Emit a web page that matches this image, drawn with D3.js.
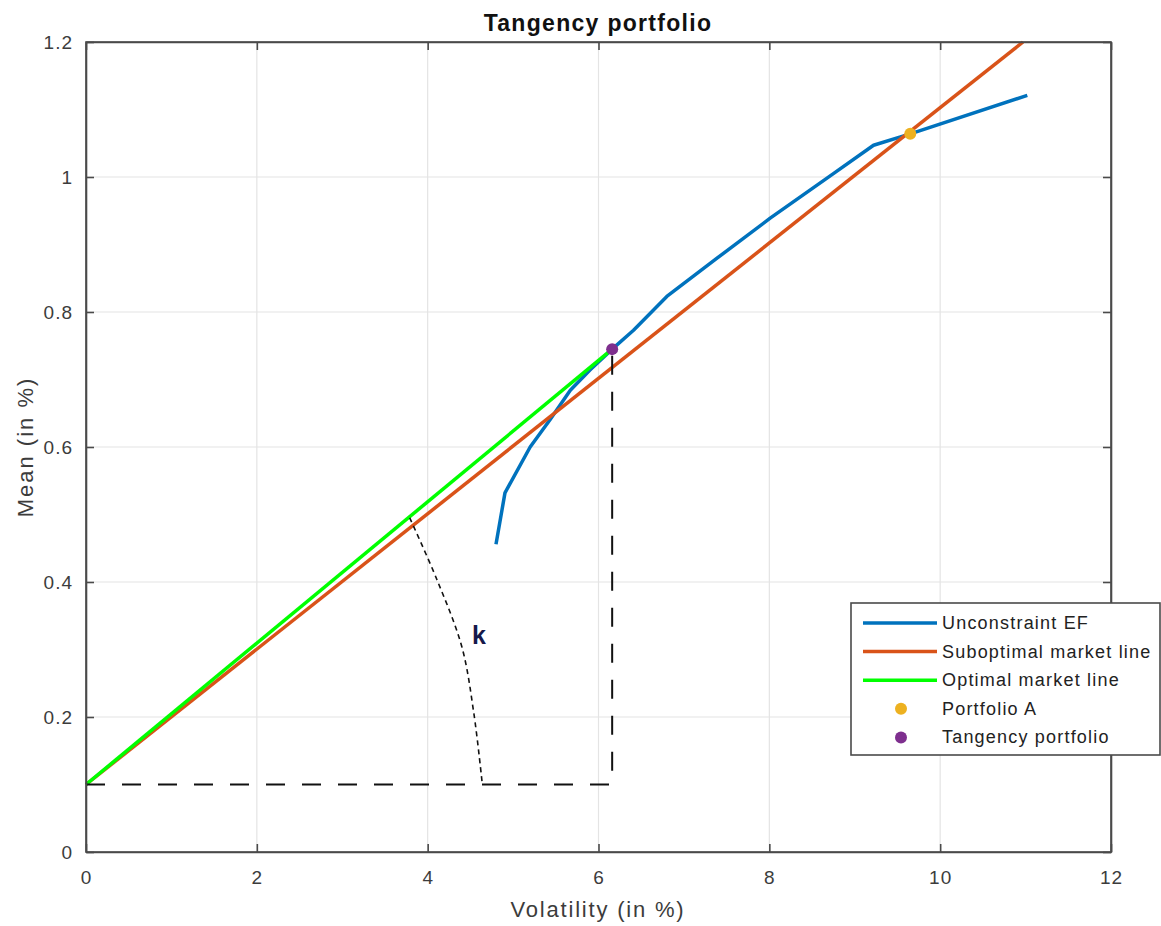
<!DOCTYPE html>
<html>
<head>
<meta charset="utf-8">
<script src="https://cdn.jsdelivr.net/npm/d3@7/dist/d3.min.js"></script>
<style>
  body { margin: 0; background: #fff; }
  svg { display: block; font-family: "Liberation Sans", Arial, Helvetica, sans-serif; }
</style>
</head>
<body>
<svg id="chart" width="1161" height="926"></svg>
<script>
// Efficient frontier (volatility %, mean %)
const efVol  = [4.80, 4.905, 5.20, 5.43, 5.67, 5.90, 6.16, 6.41, 6.80, 7.38, 8.01, 8.75, 9.22, 9.65, 11.02];
const efMean = [0.456, 0.532, 0.600, 0.640, 0.684, 0.714, 0.745, 0.773, 0.823, 0.879, 0.939, 1.005, 1.047, 1.064, 1.121];

// Suboptimal market line (through Portfolio A)
const subVol  = [0, 10.97];
const subMean = [0.1, 1.2];

// Optimal market line (through tangency portfolio)
const optVol  = [0, 6.16];
const optMean = [0.1, 0.745];

// Highlighted portfolios
const portfolioA = [9.65, 1.064];
const tangency   = [6.16, 0.745];

// Dashed guide: risk-free level and drop from tangency portfolio
const guideVol  = [0, 6.16, 6.16];
const guideMean = [0.1, 0.1, 0.745];

// Arc marking the angle k
const arcVol  = [3.79, 4.11, 4.40, 4.54, 4.64];
const arcMean = [0.495, 0.403, 0.304, 0.206, 0.1];
const angleLabel = { text: "k", vol: 4.6, mean: 0.322 };

// Axis ticks
const xTicks = [0, 2, 4, 6, 8, 10, 12];
const yTicks = [0, 0.2, 0.4, 0.6, 0.8, 1, 1.2];

const legendItems = [
  { label: "Unconstraint EF", type: "line", color: "#0072BD" },
  { label: "Suboptimal market line", type: "line", color: "#D95319" },
  { label: "Optimal market line", type: "line", color: "#00FF00" },
  { label: "Portfolio A", type: "dot", color: "#EDB120" },
  { label: "Tangency portfolio", type: "dot", color: "#7E2F8E" }
];

const svg = d3.select("#chart");
const plotL = 86, plotR = 1111, plotT = 42, plotB = 852;
const axisColor = "#4a4a4a";

const x = d3.scaleLinear().domain([0, 12]).range([plotL, plotR]);
const y = d3.scaleLinear().domain([0, 1.2]).range([plotB, plotT]);

// Grid
const grid = svg.append("g");
grid.selectAll("line.gx").data(xTicks).join("line")
  .attr("x1", d => x(d)).attr("x2", d => x(d))
  .attr("y1", plotT).attr("y2", plotB)
  .attr("stroke", "#e4e4e4").attr("stroke-width", 1.2);
grid.selectAll("line.gy").data(yTicks).join("line")
  .attr("y1", d => y(d)).attr("y2", d => y(d))
  .attr("x1", plotL).attr("x2", plotR)
  .attr("stroke", "#e4e4e4").attr("stroke-width", 1.2);

const toPts = (xs, ys) => xs.map((v, i) => [v, ys[i]]);
const line = d3.line().x(d => x(d[0])).y(d => y(d[1]));

// Series lines
svg.append("path").attr("d", line(toPts(efVol, efMean)))
  .attr("fill", "none").attr("stroke", "#0072BD").attr("stroke-width", 3.5)
  .attr("stroke-linejoin", "round");
svg.append("path").attr("d", line(toPts(subVol, subMean)))
  .attr("fill", "none").attr("stroke", "#D95319").attr("stroke-width", 3.5);
svg.append("path").attr("d", line(toPts(optVol, optMean)))
  .attr("fill", "none").attr("stroke", "#00FF00").attr("stroke-width", 3.5);

// Points
svg.append("circle").attr("cx", x(portfolioA[0])).attr("cy", y(portfolioA[1]))
  .attr("r", 6).attr("fill", "#EDB120");
svg.append("circle").attr("cx", x(tangency[0])).attr("cy", y(tangency[1]))
  .attr("r", 6).attr("fill", "#7E2F8E");

// Dashed guides
svg.append("path").attr("d", line(toPts(guideVol, guideMean)))
  .attr("fill", "none").attr("stroke", "#111").attr("stroke-width", 2)
  .attr("stroke-dasharray", "19,17");

// Angle arc
svg.append("path")
  .attr("d", d3.line().curve(d3.curveCatmullRom).x(d => x(d[0])).y(d => y(d[1]))(toPts(arcVol, arcMean)))
  .attr("fill", "none").attr("stroke", "#111").attr("stroke-width", 1.6)
  .attr("stroke-dasharray", "5,4");

// Angle label
svg.append("text").attr("x", x(angleLabel.vol)).attr("y", y(angleLabel.mean))
  .attr("text-anchor", "middle").attr("dominant-baseline", "central")
  .attr("font-size", 25).attr("font-weight", "bold").attr("fill", "#15194a")
  .text(angleLabel.text);

// Axes box
svg.append("rect").attr("x", plotL).attr("y", plotT)
  .attr("width", plotR - plotL).attr("height", plotB - plotT)
  .attr("fill", "none").attr("stroke", axisColor).attr("stroke-width", 1.6);

const fmt = d3.format("~g");
const xAxisB = d3.axisBottom(x).tickValues(xTicks).tickSizeInner(-8).tickSizeOuter(0).tickPadding(19).tickFormat(fmt);
const xAxisT = d3.axisTop(x).tickValues(xTicks).tickSizeInner(-8).tickSizeOuter(0).tickFormat("");
const yAxisL = d3.axisLeft(y).tickValues(yTicks).tickSizeInner(-8).tickSizeOuter(0).tickPadding(13).tickFormat(fmt);
const yAxisR = d3.axisRight(y).tickValues(yTicks).tickSizeInner(-8).tickSizeOuter(0).tickFormat("");

function style(g) {
  g.select(".domain").attr("stroke", axisColor).attr("stroke-width", 1.6);
  g.selectAll(".tick line").attr("stroke", axisColor).attr("stroke-width", 1.6);
  g.selectAll(".tick text").attr("fill", "#3c3c3c").attr("font-size", 19)
    .attr("letter-spacing", 1)
    .attr("font-family", "'Liberation Sans', Arial, sans-serif");
}
svg.append("g").attr("transform", `translate(0,${plotB})`).call(xAxisB).call(style);
svg.append("g").attr("transform", `translate(0,${plotT})`).call(xAxisT).call(style);
svg.append("g").attr("transform", `translate(${plotL},0)`).call(yAxisL).call(style);
svg.append("g").attr("transform", `translate(${plotR},0)`).call(yAxisR).call(style);

// Title and axis labels
svg.append("text").attr("x", 598).attr("y", 31)
  .attr("text-anchor", "middle").attr("font-size", 23).attr("font-weight", "bold")
  .attr("letter-spacing", 1.3).attr("fill", "#111").text("Tangency portfolio");
svg.append("text").attr("x", 598).attr("y", 917)
  .attr("text-anchor", "middle").attr("font-size", 22).attr("letter-spacing", 1.8)
  .attr("fill", "#3c3c3c").text("Volatility (in %)");
svg.append("text").attr("transform", `translate(33,447) rotate(-90)`)
  .attr("text-anchor", "middle").attr("font-size", 22).attr("letter-spacing", 2)
  .attr("fill", "#3c3c3c").text("Mean (in %)");

// Legend
const lg = svg.append("g").attr("transform", "translate(851,603)");
lg.append("rect").attr("width", 309).attr("height", 152)
  .attr("fill", "#fff").attr("stroke", axisColor).attr("stroke-width", 1.6);
legendItems.forEach((it, i) => {
  const cy = 20 + i * 28.6;
  if (it.type === "line") {
    lg.append("line").attr("x1", 12).attr("x2", 86).attr("y1", cy).attr("y2", cy)
      .attr("stroke", it.color).attr("stroke-width", 3.5);
  } else {
    lg.append("circle").attr("cx", 50).attr("cy", cy).attr("r", 6).attr("fill", it.color);
  }
  lg.append("text").attr("x", 91).attr("y", cy).attr("dominant-baseline", "central")
    .attr("font-size", 18).attr("letter-spacing", 1.2).attr("fill", "#222").text(it.label);
});
</script>
</body>
</html>
